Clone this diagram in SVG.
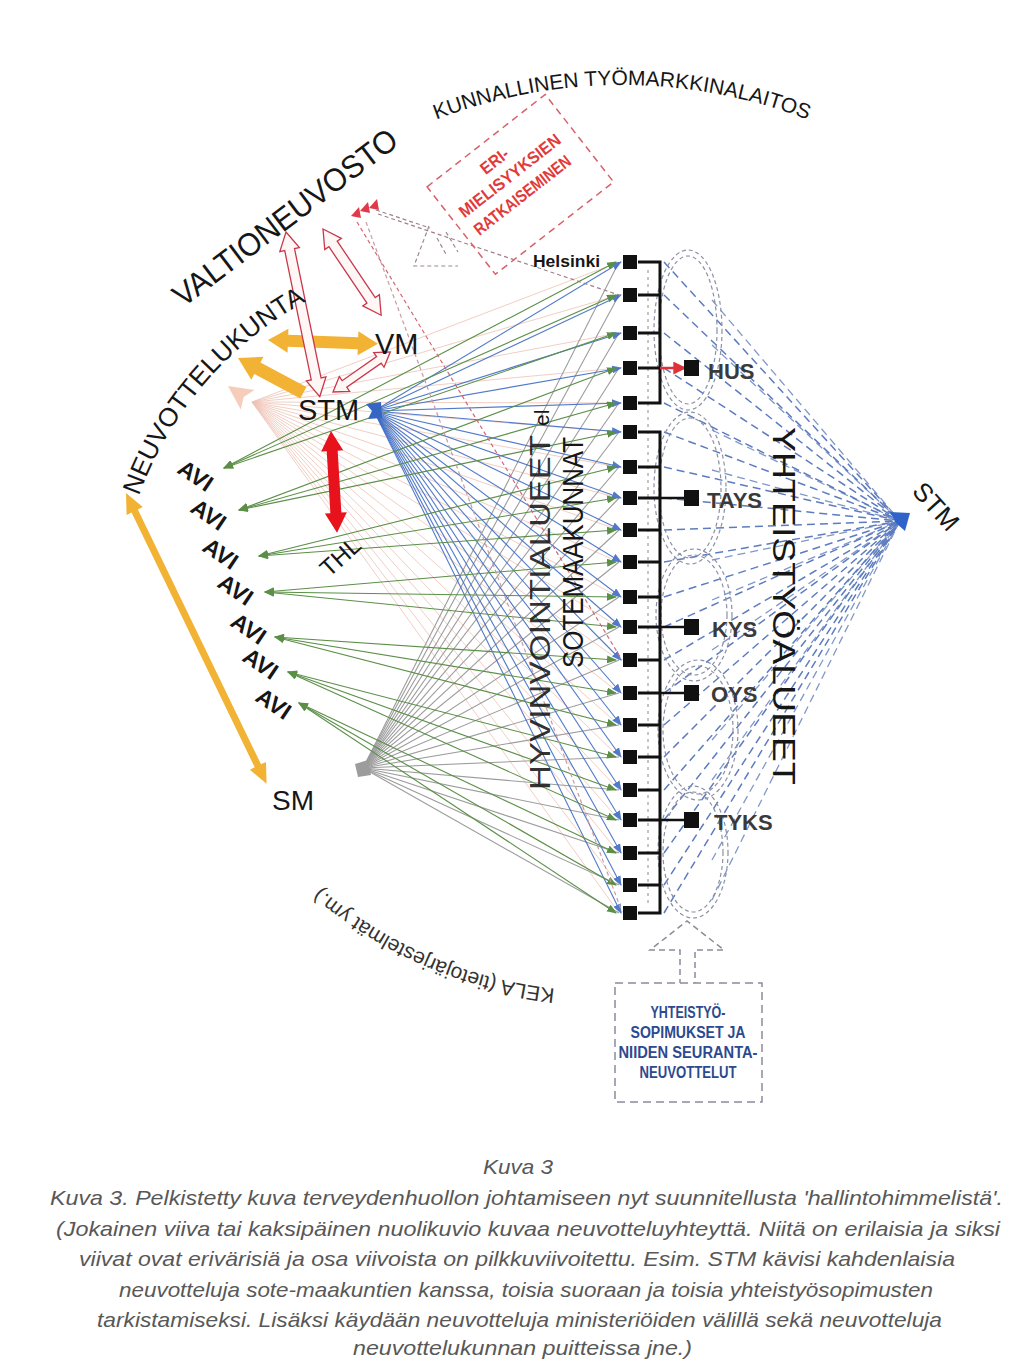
<svg xmlns="http://www.w3.org/2000/svg" width="1024" height="1370" viewBox="0 0 1024 1370">
<style>
.t{font-family:"Liberation Sans",Arial,sans-serif;fill:#161616}
.b{font-weight:bold}
.cap{font-family:"Liberation Sans",Arial,sans-serif;font-style:italic;font-size:21px;fill:#585858}
.pk line{stroke:#efc4b6;stroke-width:1;opacity:.8}
.gy line{stroke:#9c9c9c;stroke-width:1.1}
.bl line{stroke:#3f6dc4;stroke-width:1.1;opacity:.9}
.gr line{stroke:#5b8f47;stroke-width:1.1}
.bd line{stroke:#5d7cbf;stroke-width:1.5;stroke-dasharray:8 5}
.bd2 line{stroke:#8097c8;stroke-width:1.3;stroke-dasharray:8 5}
.loop ellipse{fill:none;stroke:#8c90a4;stroke-width:1.2;stroke-dasharray:4 3}
.sq{fill:#111}
.hol{fill:#fff6f6;stroke:#c8384a;stroke-width:1.3}
</style>
<defs>
<marker id="mg" viewBox="0 0 10 8" refX="9" refY="4" markerWidth="10" markerHeight="8" markerUnits="userSpaceOnUse" orient="auto-start-reverse"><path d="M0,0 L10,4 L0,8 z" fill="#5b8f47"/></marker>
<marker id="mb" viewBox="0 0 10 8" refX="9" refY="4" markerWidth="10" markerHeight="8" markerUnits="userSpaceOnUse" orient="auto"><path d="M0,0 L10,4 L0,8 z" fill="#3f6dc4"/></marker>
<marker id="mr" viewBox="0 0 10 10" refX="9" refY="5" markerWidth="13" markerHeight="13" markerUnits="userSpaceOnUse" orient="auto"><path d="M0,0 L10,5 L0,10 z" fill="#e0303a"/></marker>
</defs>
<rect width="1024" height="1370" fill="#fff"/>

<g id="connectors">
<g class="pk">
<line x1="252" y1="402" x2="619" y2="262"/><line x1="252" y1="402" x2="619" y2="295"/><line x1="252" y1="402" x2="619" y2="333"/><line x1="252" y1="402" x2="619" y2="368"/><line x1="252" y1="402" x2="619" y2="403"/><line x1="252" y1="402" x2="619" y2="432"/><line x1="252" y1="402" x2="619" y2="467"/><line x1="252" y1="402" x2="619" y2="498"/><line x1="252" y1="402" x2="619" y2="530"/><line x1="252" y1="402" x2="619" y2="562"/><line x1="252" y1="402" x2="619" y2="597"/><line x1="252" y1="402" x2="619" y2="627"/><line x1="252" y1="402" x2="619" y2="660"/><line x1="252" y1="402" x2="619" y2="693"/><line x1="252" y1="402" x2="619" y2="725"/><line x1="252" y1="402" x2="619" y2="757"/><line x1="252" y1="402" x2="619" y2="790"/><line x1="252" y1="402" x2="619" y2="820"/><line x1="252" y1="402" x2="619" y2="853"/><line x1="252" y1="402" x2="619" y2="885"/><line x1="252" y1="402" x2="619" y2="913"/>
</g>
<g class="gy">
<line x1="363" y1="768" x2="619" y2="262"/><line x1="363" y1="768" x2="619" y2="295"/><line x1="363" y1="768" x2="619" y2="333"/><line x1="363" y1="768" x2="619" y2="368"/><line x1="363" y1="768" x2="619" y2="403"/><line x1="363" y1="768" x2="619" y2="432"/><line x1="363" y1="768" x2="619" y2="467"/><line x1="363" y1="768" x2="619" y2="498"/><line x1="363" y1="768" x2="619" y2="530"/><line x1="363" y1="768" x2="619" y2="562"/><line x1="363" y1="768" x2="619" y2="597"/><line x1="363" y1="768" x2="619" y2="627"/><line x1="363" y1="768" x2="619" y2="660"/><line x1="363" y1="768" x2="619" y2="693"/><line x1="363" y1="768" x2="619" y2="725"/><line x1="363" y1="768" x2="619" y2="757"/><line x1="363" y1="768" x2="619" y2="790"/><line x1="363" y1="768" x2="619" y2="820"/><line x1="363" y1="768" x2="619" y2="853"/><line x1="363" y1="768" x2="619" y2="885"/><line x1="363" y1="768" x2="619" y2="913"/>
</g>
<g class="bl" marker-end="url(#mb)">
<line x1="374" y1="411" x2="621" y2="262"/><line x1="374" y1="411" x2="621" y2="295"/><line x1="374" y1="411" x2="621" y2="333"/><line x1="374" y1="411" x2="621" y2="368"/><line x1="374" y1="411" x2="621" y2="403"/><line x1="374" y1="411" x2="621" y2="432"/><line x1="374" y1="411" x2="621" y2="467"/><line x1="374" y1="411" x2="621" y2="498"/><line x1="374" y1="411" x2="621" y2="530"/><line x1="374" y1="411" x2="621" y2="562"/><line x1="374" y1="411" x2="621" y2="597"/><line x1="374" y1="411" x2="621" y2="627"/><line x1="374" y1="411" x2="621" y2="660"/><line x1="374" y1="411" x2="621" y2="693"/><line x1="374" y1="411" x2="621" y2="725"/><line x1="374" y1="411" x2="621" y2="757"/><line x1="374" y1="411" x2="621" y2="790"/><line x1="374" y1="411" x2="621" y2="820"/><line x1="374" y1="411" x2="621" y2="853"/><line x1="374" y1="411" x2="621" y2="885"/><line x1="374" y1="411" x2="621" y2="913"/>
</g>
<g class="gr" marker-start="url(#mg)" marker-end="url(#mg)">
<line x1="224" y1="468" x2="616" y2="262"/><line x1="224" y1="468" x2="616" y2="295"/><line x1="224" y1="468" x2="616" y2="333"/>
<line x1="239" y1="510" x2="616" y2="368"/><line x1="239" y1="510" x2="616" y2="403"/><line x1="239" y1="510" x2="616" y2="432"/>
<line x1="259" y1="556" x2="616" y2="467"/><line x1="259" y1="556" x2="616" y2="498"/><line x1="259" y1="556" x2="616" y2="530"/>
<line x1="265" y1="592" x2="616" y2="562"/><line x1="265" y1="592" x2="616" y2="597"/><line x1="265" y1="592" x2="616" y2="627"/>
<line x1="275" y1="637" x2="616" y2="660"/><line x1="275" y1="637" x2="616" y2="693"/><line x1="275" y1="637" x2="616" y2="725"/>
<line x1="288" y1="672" x2="616" y2="757"/><line x1="288" y1="672" x2="616" y2="790"/><line x1="288" y1="672" x2="616" y2="820"/>
<line x1="299" y1="703" x2="616" y2="853"/><line x1="299" y1="703" x2="616" y2="885"/><line x1="299" y1="703" x2="616" y2="913"/>
</g>
<g fill="none" stroke-width="1.2" stroke-dasharray="4 3">
<line x1="357" y1="222" x2="622" y2="660" stroke="#d06a78"/>
<line x1="366" y1="222" x2="622" y2="912" stroke="#c99aa2"/>
<line x1="376" y1="210" x2="430" y2="228" stroke="#a08088"/>
<line x1="378" y1="214" x2="628" y2="298" stroke="#a08088"/>
<polyline points="429,226 414,266 458,266" stroke="#9a8a90"/>
<line x1="437" y1="238" x2="447" y2="256" stroke="#9a8a90"/>
<line x1="446" y1="232" x2="458" y2="252" stroke="#9a8a90"/>
</g>
<g class="bd2">
<line x2="900" y2="521" x1="712" y1="300"/><line x2="900" y2="521" x1="712" y1="345"/><line x2="900" y2="521" x1="712" y1="430"/><line x2="900" y2="521" x1="712" y1="470"/><line x2="900" y2="521" x1="712" y1="560"/><line x2="900" y2="521" x1="712" y1="600"/><line x2="900" y2="521" x1="712" y1="650"/><line x2="900" y2="521" x1="712" y1="740"/><line x2="900" y2="521" x1="712" y1="780"/><line x2="900" y2="521" x1="712" y1="860"/><line x2="900" y2="521" x1="712" y1="900"/>
</g>
<g class="bd">
<line x2="900" y2="521" x1="664" y1="262"/><line x2="900" y2="521" x1="664" y1="295"/><line x2="900" y2="521" x1="664" y1="333"/><line x2="900" y2="521" x1="664" y1="368"/><line x2="900" y2="521" x1="664" y1="403"/><line x2="900" y2="521" x1="664" y1="432"/><line x2="900" y2="521" x1="664" y1="467"/><line x2="900" y2="521" x1="664" y1="498"/><line x2="900" y2="521" x1="664" y1="530"/><line x2="900" y2="521" x1="664" y1="562"/><line x2="900" y2="521" x1="664" y1="597"/><line x2="900" y2="521" x1="664" y1="627"/><line x2="900" y2="521" x1="664" y1="660"/><line x2="900" y2="521" x1="664" y1="693"/><line x2="900" y2="521" x1="664" y1="725"/><line x2="900" y2="521" x1="664" y1="757"/><line x2="900" y2="521" x1="664" y1="790"/><line x2="900" y2="521" x1="664" y1="820"/><line x2="900" y2="521" x1="664" y1="853"/><line x2="900" y2="521" x1="664" y1="885"/><line x2="900" y2="521" x1="664" y1="913"/>
</g>
<g class="loop">
<ellipse cx="688" cy="330" rx="34" ry="80"/><ellipse cx="688" cy="330" rx="29" ry="74"/>
<ellipse cx="690" cy="488" rx="36" ry="76"/><ellipse cx="690" cy="488" rx="31" ry="70"/>
<ellipse cx="694" cy="615" rx="38" ry="66"/><ellipse cx="694" cy="615" rx="33" ry="60"/>
<ellipse cx="698" cy="730" rx="40" ry="70"/><ellipse cx="698" cy="730" rx="35" ry="64"/>
<ellipse cx="693" cy="852" rx="35" ry="66"/><ellipse cx="693" cy="852" rx="30" ry="60"/>
</g>
<line x1="648" y1="270" x2="648" y2="905" stroke="#8a8a8a" stroke-width="1" stroke-dasharray="3 4"/>
<polygon transform="translate(268,340) rotate(2)" points="0,0 20,-12 20,-6 90,-6 90,-12 110,0 90,12 90,6 20,6 20,12" fill="#f2b233"/>
<polygon transform="translate(238,358) rotate(28)" points="0,0 22,-13 22,-6.5 74,-6.5 74,6.5 22,6.5 22,13" fill="#f2b233"/>
<polygon transform="translate(126,493) rotate(64.2)" points="0,0 20,-9 20,-3.5 303,-3.5 303,-9 323,0 303,9 303,3.5 20,3.5 20,9" fill="#f2b233"/>
<polygon transform="translate(331,431) rotate(86.6)" points="0,0 20,-11 20,-5.5 82,-5.5 82,-11 102,0 82,11 82,5.5 20,5.5 20,11" fill="#e8121c"/>
<polygon class="hol" transform="translate(286,232) rotate(78.4)" points="0,0 18,-10 18,-5 150,-5 150,-10 168,0 150,10 150,5 18,5 18,10"/>
<polygon class="hol" transform="translate(323,229) rotate(56)" points="0,0 18,-10 18,-5 86,-5 86,-10 104,0 86,10 86,5 18,5 18,10"/>
<polygon class="hol" transform="translate(333,392) rotate(-35)" points="0,0 14,-9 14,-4 56,-4 56,-9 70,0 56,9 56,4 14,4 14,9"/>
<polygon transform="translate(228,386) rotate(35)" points="0,0 24,-12 19,0 24,12" fill="#f5c3ae" opacity="0.85"/>
<polygon points="351,216 359,207 361,218" fill="#e03a48"/>
<polygon points="360,211 368,202 370,213" fill="#e03a48"/>
<polygon points="369,208 377,199 379,210" fill="#e03a48"/>
<polygon points="680,985 680,950 650,950 687,921 724,950 695,950 695,985" fill="none" stroke="#8a8c9a" stroke-width="1.5" stroke-dasharray="6 4"/>
</g>

<g id="sote-column">
<rect class="sq" x="623" y="255" width="14" height="14"/><rect class="sq" x="623" y="288" width="14" height="14"/><rect class="sq" x="623" y="326" width="14" height="14"/><rect class="sq" x="623" y="361" width="14" height="14"/><rect class="sq" x="623" y="396" width="14" height="14"/><rect class="sq" x="623" y="425" width="14" height="14"/><rect class="sq" x="623" y="460" width="14" height="14"/><rect class="sq" x="623" y="491" width="14" height="14"/><rect class="sq" x="623" y="523" width="14" height="14"/><rect class="sq" x="623" y="555" width="14" height="14"/><rect class="sq" x="623" y="590" width="14" height="14"/><rect class="sq" x="623" y="620" width="14" height="14"/><rect class="sq" x="623" y="653" width="14" height="14"/><rect class="sq" x="623" y="686" width="14" height="14"/><rect class="sq" x="623" y="718" width="14" height="14"/><rect class="sq" x="623" y="750" width="14" height="14"/><rect class="sq" x="623" y="783" width="14" height="14"/><rect class="sq" x="623" y="813" width="14" height="14"/><rect class="sq" x="623" y="846" width="14" height="14"/><rect class="sq" x="623" y="878" width="14" height="14"/><rect class="sq" x="623" y="906" width="14" height="14"/>
<g fill="none" stroke="#111" stroke-width="3">
<path d="M638,262 H660 V403 H638 M638,295 H660 M638,333 H660 M638,368 H660"/>
<path d="M638,432 H660 V913 H638 M638,467 H660 M638,498 H660 M638,530 H660 M638,562 H660 M638,597 H660 M638,627 H660 M638,660 H660 M638,693 H660 M638,725 H660 M638,757 H660 M638,790 H660 M638,820 H660 M638,853 H660 M638,885 H660"/>
<path d="M660,498 H684 M660,627 H684 M660,693 H684 M660,820 H684" stroke-width="2.5"/>
</g>
<line x1="660" y1="368" x2="685" y2="368" stroke="#e0303a" stroke-width="2.5" marker-end="url(#mr)"/>
<text class="t b" x="533" y="267" font-size="16" textLength="67" lengthAdjust="spacingAndGlyphs">Helsinki</text>
<text class="t" transform="translate(550,790) rotate(-90)" font-size="29" fill-opacity="0.9" textLength="355" lengthAdjust="spacingAndGlyphs">HYVINVOINTIALUEET</text>
<text class="t" transform="translate(549,426) rotate(-90)" font-size="21">el</text>
<text class="t" transform="translate(583,668) rotate(-90)" font-size="29" textLength="231" lengthAdjust="spacingAndGlyphs">SOTEMAAKUNNAT</text>
</g>

<g id="hospitals">
<rect class="sq" x="684" y="360" width="15" height="16"/><rect class="sq" x="684" y="490" width="15" height="16"/><rect class="sq" x="684" y="619" width="15" height="16"/><rect class="sq" x="684" y="685" width="15" height="16"/><rect class="sq" x="684" y="812" width="15" height="16"/>
<g class="t b" font-size="22" style="fill:#3a3a3a">
<text x="708" y="379">HUS</text>
<text x="707" y="508">TAYS</text>
<text x="712" y="637">KYS</text>
<text x="711" y="702">OYS</text>
<text x="714" y="830">TYKS</text>
</g>
<text class="t" transform="translate(773,427) rotate(90)" font-size="31" textLength="358" lengthAdjust="spacingAndGlyphs">YHTEISTYÖALUEET</text>
</g>

<g id="stm-right">
<polygon points="890,512 910,513 905,531 896,523" fill="#2f63c9"/>
<text class="t" transform="translate(911,492) rotate(48)" font-size="26">STM</text>
</g>

<g id="stm-left">
<polygon points="366,404 381,402 382,418 368,419 372,411" fill="#3566c4"/>
<text class="t" x="298" y="420" font-size="29">STM</text>
</g>
<g id="vm"><text class="t" x="375" y="354" font-size="29">VM</text></g>
<g id="sm">
<polygon points="355,764 368,760 371,775 358,777" fill="#9c9c9c"/>
<text class="t" x="272" y="810" font-size="28">SM</text>
</g>
<g id="thl"><text class="t" transform="translate(329,578) rotate(-42)" font-size="24">THL</text></g>

<g id="avi" class="t b" font-size="23">
<text transform="translate(176,472) rotate(34)">AVI</text>
<text transform="translate(189,511) rotate(34)">AVI</text>
<text transform="translate(201,550) rotate(34)">AVI</text>
<text transform="translate(216,586) rotate(34)">AVI</text>
<text transform="translate(229,625) rotate(34)">AVI</text>
<text transform="translate(241,660) rotate(34)">AVI</text>
<text transform="translate(254,700) rotate(34)">AVI</text>
</g>

<g id="valtioneuvosto">
<text class="t" transform="translate(183,308) rotate(-37)" font-size="32" textLength="272" lengthAdjust="spacingAndGlyphs">VALTIONEUVOSTO</text>
</g>

<g id="arc-labels">
<path id="pNeu" d="M138.9,495.9 A363,363 0 0,1 355.9,278.9" fill="none"/>
<text class="t" font-size="26"><textPath href="#pNeu" textLength="262" lengthAdjust="spacingAndGlyphs">NEUVOTTELUKUNTA</textPath></text>
<path id="pKun" d="M364.5,154 A515,515 0 0,1 879.5,154" fill="none"/>
<text class="t" font-size="21"><textPath href="#pKun" startOffset="50%" text-anchor="middle">KUNNALLINEN TYÖMARKKINALAITOS</textPath></text>
<path id="pKela" d="M554.9,988.6 A431,431 0 0,1 269.8,837" fill="none"/>
<text class="t" font-size="21" style="fill:#333"><textPath href="#pKela">KELA (tietojärjestelmät ym.)</textPath></text>
</g>

<g id="eri-box" transform="translate(520,184) rotate(-38)">
<rect x="-75" y="-55" width="150" height="111" fill="none" stroke="#d9606a" stroke-width="1.5" stroke-dasharray="7 5"/>
<g class="b" font-family="Liberation Sans, Arial, sans-serif" font-size="17" fill="#e23a3a" text-anchor="middle">
<text x="-6" y="-28" textLength="31" lengthAdjust="spacingAndGlyphs">ERI-</text>
<text x="-3" y="-7" textLength="124" lengthAdjust="spacingAndGlyphs">MIELISYYKSIEN</text>
<text x="-5" y="16" textLength="118" lengthAdjust="spacingAndGlyphs">RATKAISEMINEN</text>
</g>
</g>

<g id="sopimus-box">
<rect x="615" y="983" width="147" height="119" fill="#fff" stroke="#8a8c9a" stroke-width="1.5" stroke-dasharray="8 5"/>
<g class="b" font-family="Liberation Sans, Arial, sans-serif" font-size="16" fill="#2b4a8f" text-anchor="middle">
<text x="688" y="1018" textLength="75" lengthAdjust="spacingAndGlyphs">YHTEISTYÖ-</text>
<text x="688" y="1038" textLength="115" lengthAdjust="spacingAndGlyphs">SOPIMUKSET JA</text>
<text x="688" y="1058" textLength="139" lengthAdjust="spacingAndGlyphs">NIIDEN SEURANTA-</text>
<text x="688" y="1078" textLength="97" lengthAdjust="spacingAndGlyphs">NEUVOTTELUT</text>
</g>
</g>

<g id="caption" class="cap">
<text x="483" y="1174" textLength="70" lengthAdjust="spacingAndGlyphs">Kuva 3</text>
<text x="50" y="1205" textLength="953" lengthAdjust="spacingAndGlyphs">Kuva 3. Pelkistetty kuva terveydenhuollon johtamiseen nyt suunnitellusta 'hallintohimmelistä'.</text>
<text x="56" y="1236" textLength="944" lengthAdjust="spacingAndGlyphs">(Jokainen viiva tai kaksipäinen nuolikuvio kuvaa neuvotteluyhteyttä. Niitä on erilaisia ja siksi</text>
<text x="79" y="1266" textLength="876" lengthAdjust="spacingAndGlyphs">viivat ovat erivärisiä ja  osa viivoista on pilkkuviivoitettu. Esim. STM kävisi kahdenlaisia</text>
<text x="119" y="1297" textLength="814" lengthAdjust="spacingAndGlyphs">neuvotteluja sote-maakuntien kanssa, toisia suoraan ja toisia yhteistyösopimusten</text>
<text x="97" y="1327" textLength="845" lengthAdjust="spacingAndGlyphs">tarkistamiseksi. Lisäksi käydään neuvotteluja ministeriöiden välillä sekä neuvotteluja</text>
<text x="353" y="1355" textLength="339" lengthAdjust="spacingAndGlyphs">neuvottelukunnan puitteissa jne.)</text>
</g>
</svg>
